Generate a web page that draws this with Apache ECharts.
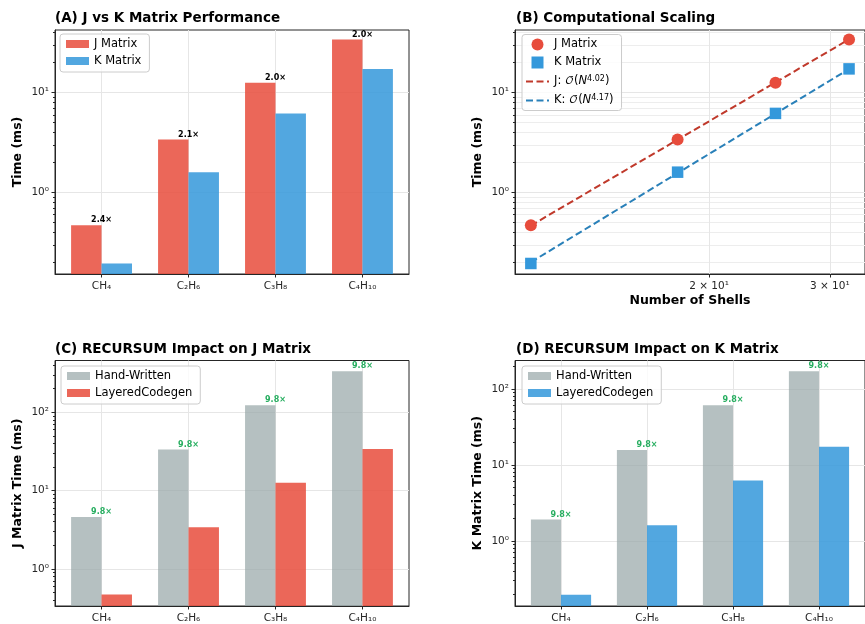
<!DOCTYPE html>
<html>
<head>
<meta charset="utf-8">
<script src="https://cdn.jsdelivr.net/npm/echarts@6/dist/echarts.min.js"></script>
<style>
  html, body { margin: 0; padding: 0; background: #ffffff; }
  #chart { width: 865px; height: 624px; }
</style>
</head>
<body>
<div id="chart"></div>
<script>
// ---- data ----
const molecules = ['CH₄', 'C₂H₆', 'C₃H₈', 'C₄H₁₀'];
const jMatrixMs = [0.47, 3.4, 12.6, 34.0];
const kMatrixMs = [0.195, 1.6, 6.2, 17.3];
const jkRatioText = ['2.4×', '2.1×', '2.0×', '2.0×'];
const shellCounts = [11, 18, 25, 32];
const jScalingExponent = 4.02;
const kScalingExponent = 4.17;
const handWrittenJMs = [4.6, 33.3, 123, 333];
const handWrittenKMs = [1.91, 15.7, 60.8, 170];
const recursumSpeedupJ = ['9.8×', '9.8×', '9.8×', '9.8×'];
const recursumSpeedupK = ['9.8×', '9.8×', '9.8×', '9.8×'];
const majorLogTicks = [1, 10, 100];
const shellTicks = [20, 30];

// ---- styles ----
const FONT = 'DejaVu Sans';
const INK = '#262626';
const GRID_LINE = '#e6e6e6';
const J_FILL = 'rgba(231,76,60,0.85)';
const K_FILL = 'rgba(52,152,219,0.85)';
const HAND_FILL = 'rgba(149,165,166,0.7)';
const GREEN = '#27ae60';
const J_FIT = '#c0392b';
const K_FIT = '#2980b9';
const BAR_W = 0.35;
const X_MIN = -0.535, X_MAX = 3.535;

// legend glyphs: a square marker and a dashed stroke
const SQUARE_ICON = 'path://M0,0L10,0L10,10L0,10Z';
const DASH_ICON = 'path://M0,0h7v2h-7z M10.5,0h7v2h-7z M21,0h2v2h-2z';

const SUP = { '0': '⁰', '1': '¹', '2': '²', '-': '⁻' };
function pow10Label(v) {
  const e = Math.round(Math.log10(v));
  return '10' + String(e).split('').map(c => SUP[c]).join('');
}
function minorLogTicks(min, max) {
  const out = [];
  for (let e = -2; e <= 3; e++) {
    for (let m = 2; m <= 9; m++) {
      const v = m * Math.pow(10, e);
      if (v >= min && v <= max) out.push(v);
    }
  }
  return out;
}

const displayName = {
  jBars: 'J Matrix', kBars: 'K Matrix',
  jPts: 'J Matrix', kPts: 'K Matrix',
  jFit: '{t|J: }{o|𝒪}{t|(}{i|N}{s|' + jScalingExponent.toFixed(2) + '}{t|)}',
  kFit: '{t|K: }{o|𝒪}{t|(}{i|N}{s|' + kScalingExponent.toFixed(2) + '}{t|)}',
  hwJ: 'Hand-Written', lcJ: 'LayeredCodegen',
  hwK: 'Hand-Written', lcK: 'LayeredCodegen'
};

// ---- helpers ----
function barItem(offset) {
  return function (params, api) {
    const cs = params.coordSys;
    const x = api.value(0), v = api.value(1);
    const a = api.coord([x + offset - BAR_W / 2, v]);
    const b = api.coord([x + offset + BAR_W / 2, v]);
    const bottom = cs.y + cs.height;
    return {
      type: 'rect',
      shape: { x: a[0], y: a[1], width: b[0] - a[0], height: bottom - a[1] },
      style: api.style()
    };
  };
}
function barSeries(name, grid, values, offset, fill) {
  return {
    name, type: 'custom', xAxisIndex: grid, yAxisIndex: grid * 2,
    renderItem: barItem(offset), clip: true,
    itemStyle: { color: fill },
    encode: { x: 0, y: 1 },
    data: values.map((v, i) => [i, v]), z: 2
  };
}
function ratioSeries(grid, tops, texts, color) {
  return {
    type: 'custom', xAxisIndex: grid, yAxisIndex: grid * 2, z: 5,
    encode: { x: 0, y: 1 },
    renderItem: function (params, api) {
      const p = api.coord([api.value(0), api.value(1)]);
      return {
        type: 'text', x: p[0], y: p[1] - 1,
        style: {
          text: texts[params.dataIndex], fill: color,
          font: 'bold 8px ' + FONT, align: 'center', verticalAlign: 'bottom'
        }
      };
    },
    data: tops.map((v, i) => [i, v])
  };
}
function powerFit(xs, ys, p) {
  const lx = xs.map(Math.log10), ly = ys.map(Math.log10);
  const c = ly.reduce((s, v, i) => s + v - p * lx[i], 0) / xs.length;
  return [xs[0], xs[xs.length - 1]].map(x => [x, Math.pow(10, c + p * Math.log10(x))]);
}

const tickLabelStyle = { fontFamily: FONT, fontSize: 10.5, color: INK };
const axisNameStyle = { fontFamily: FONT, fontSize: 12.5, fontWeight: 'bold', color: '#000' };

function categoryXAxis(grid) {
  const ticks = [0, 1, 2, 3];
  return {
    type: 'value', gridIndex: grid, min: X_MIN, max: X_MAX, position: 'bottom',
    axisLine: { show: true, onZero: false, lineStyle: { color: INK, width: 1 } },
    axisTick: { show: true, length: 3.5, customValues: ticks, lineStyle: { color: INK } },
    axisLabel: { customValues: ticks, formatter: v => molecules[Math.round(v)], margin: 7, ...tickLabelStyle },
    splitLine: { show: true, lineStyle: { color: GRID_LINE, width: 1 } }
  };
}
function logYAxes(grid, min, max, name, minorGrid) {
  const majors = majorLogTicks.filter(v => v >= min && v <= max);
  const minors = minorLogTicks(min, max);
  return [
    {
      type: 'log', gridIndex: grid, min, max, position: 'left',
      name, nameLocation: 'middle', nameGap: 31, nameTextStyle: axisNameStyle,
      axisLine: { show: true, onZero: false, lineStyle: { color: INK, width: 1 } },
      axisTick: { show: true, length: 3.5, customValues: majors, lineStyle: { color: INK } },
      axisLabel: { customValues: majors, formatter: pow10Label, margin: 6, ...tickLabelStyle },
      splitLine: { show: true, lineStyle: { color: GRID_LINE, width: 1 } }
    },
    {
      type: 'log', gridIndex: grid, min, max, position: 'left', offset: 0,
      axisLine: { show: false, onZero: false },
      axisTick: { show: true, length: 2, customValues: minors, lineStyle: { color: INK } },
      axisLabel: { show: false },
      splitLine: { show: minorGrid, lineStyle: { color: '#ededed', width: 1 } }
    }
  ];
}
function legendBox(left, top, names, colors) {
  return {
    orient: 'vertical', left, top,
    data: names.map((n, i) => ({ name: n, icon: 'rect', itemStyle: { color: colors[i] } })),
    formatter: n => displayName[n],
    itemWidth: 23, itemHeight: 8, itemGap: 5,
    padding: [4, 8, 5, 6],
    backgroundColor: 'rgba(255,255,255,0.8)',
    borderColor: '#cccccc', borderWidth: 1, borderRadius: 3,
    selectedMode: false,
    textStyle: { fontFamily: FONT, fontSize: 11.5, color: '#000' }
  };
}

// ---- layout ----
const grids = [
  { left: 55, top: 30, width: 354, height: 244 },
  { left: 515, top: 30, width: 353.5, height: 244 },
  { left: 55, top: 360.5, width: 354, height: 246 },
  { left: 515, top: 360.5, width: 354, height: 246 }
].map(g => ({ ...g, show: true, borderColor: INK, borderWidth: 1, containLabel: false }));

const yAxes = [
  ...logYAxes(0, 0.153, 42.4, 'Time (ms)', false),
  ...logYAxes(1, 0.153, 42.4, 'Time (ms)', true),
  ...logYAxes(2, 0.336, 457, 'J Matrix Time (ms)', false),
  ...logYAxes(3, 0.139, 235.6, 'K Matrix Time (ms)', false)
];

const scalingXAxis = {
  type: 'log', gridIndex: 1, min: 10.43, max: 33.76, position: 'bottom',
  name: 'Number of Shells', nameLocation: 'middle', nameGap: 20,
  nameTextStyle: axisNameStyle,
  axisLine: { show: true, onZero: false, lineStyle: { color: INK, width: 1 } },
  axisTick: { show: true, length: 3.5, customValues: shellTicks, lineStyle: { color: INK } },
  axisLabel: {
    customValues: shellTicks, margin: 7,
    formatter: v => Math.round(v / 10) + ' × 10¹', ...tickLabelStyle
  },
  splitLine: { show: true, lineStyle: { color: GRID_LINE, width: 1 } }
};

const titleStyle = { fontFamily: FONT, fontSize: 13.5, fontWeight: 'bold', color: '#000' };
const titles = [
  { text: '(A) J vs K Matrix Performance', left: 55, top: 11 },
  { text: '(B) Computational Scaling', left: 516, top: 11 },
  { text: '(C) RECURSUM Impact on J Matrix', left: 55, top: 342 },
  { text: '(D) RECURSUM Impact on K Matrix', left: 516, top: 342 }
].map(t => ({ ...t, padding: 0, textStyle: titleStyle }));

const fitLegendRich = {
  t: { fontFamily: FONT, fontSize: 11.5, color: '#000' },
  o: { fontFamily: FONT + ', DejaVu Math TeX Gyre, serif', fontSize: 11.5, color: '#000' },
  i: { fontFamily: FONT, fontSize: 11.5, fontStyle: 'italic', color: '#000' },
  s: { fontFamily: FONT, fontSize: 8, color: '#000', verticalAlign: 'top', padding: [0, 0, 6, 0] }
};

const scalingLegend = {
  orient: 'vertical', left: 522, top: 34.5,
  data: [
    { name: 'jPts', icon: 'circle', itemStyle: { color: '#e74c3c' } },
    { name: 'kPts', icon: SQUARE_ICON, itemStyle: { color: '#3498db' } },
    { name: 'jFit', icon: DASH_ICON, itemStyle: { color: J_FIT } },
    { name: 'kFit', icon: DASH_ICON, itemStyle: { color: K_FIT } }
  ],
  formatter: n => displayName[n],
  itemWidth: 23, itemHeight: 12, itemGap: 6,
  padding: [4, 8, 4, 4],
  backgroundColor: 'rgba(255,255,255,0.8)',
  borderColor: '#cccccc', borderWidth: 1, borderRadius: 3,
  selectedMode: false,
  textStyle: { fontFamily: FONT, fontSize: 11.5, color: '#000', rich: fitLegendRich }
};

const option = {
  backgroundColor: '#ffffff',
  animation: false,
  title: titles,
  grid: grids,
  xAxis: [categoryXAxis(0), scalingXAxis, categoryXAxis(2), categoryXAxis(3)],
  yAxis: yAxes,
  legend: [
    legendBox(60, 34, ['jBars', 'kBars'], [J_FILL, K_FILL]),
    scalingLegend,
    legendBox(61, 366, ['hwJ', 'lcJ'], [HAND_FILL, J_FILL]),
    legendBox(522, 366, ['hwK', 'lcK'], [HAND_FILL, K_FILL])
  ],
  series: [
    // (A) J vs K
    barSeries('jBars', 0, jMatrixMs, -BAR_W / 2, J_FILL),
    barSeries('kBars', 0, kMatrixMs, BAR_W / 2, K_FILL),
    ratioSeries(0, jMatrixMs.map((v, i) => Math.max(v, kMatrixMs[i])), jkRatioText, '#000'),

    // (B) scaling with shell count
    {
      name: 'jFit', type: 'line', xAxisIndex: 1, yAxisIndex: 2, z: 3,
      data: powerFit(shellCounts, jMatrixMs, jScalingExponent),
      symbol: 'none', lineStyle: { color: J_FIT, width: 2, type: [7, 3.5] },
      itemStyle: { color: J_FIT }
    },
    {
      name: 'kFit', type: 'line', xAxisIndex: 1, yAxisIndex: 2, z: 3,
      data: powerFit(shellCounts, kMatrixMs, kScalingExponent),
      symbol: 'none', lineStyle: { color: K_FIT, width: 2, type: [7, 3.5] },
      itemStyle: { color: K_FIT }
    },
    {
      name: 'jPts', type: 'scatter', xAxisIndex: 1, yAxisIndex: 2, z: 4,
      symbol: 'circle', symbolSize: 12, itemStyle: { color: '#e74c3c', opacity: 1 },
      data: shellCounts.map((n, i) => [n, jMatrixMs[i]])
    },
    {
      name: 'kPts', type: 'scatter', xAxisIndex: 1, yAxisIndex: 2, z: 4,
      symbol: 'rect', symbolSize: 11.5, itemStyle: { color: '#3498db', opacity: 1 },
      data: shellCounts.map((n, i) => [n, kMatrixMs[i]])
    },

    // (C) RECURSUM effect on J
    barSeries('hwJ', 2, handWrittenJMs, -BAR_W / 2, HAND_FILL),
    barSeries('lcJ', 2, jMatrixMs, BAR_W / 2, J_FILL),
    ratioSeries(2, handWrittenJMs, recursumSpeedupJ, GREEN),

    // (D) RECURSUM effect on K
    barSeries('hwK', 3, handWrittenKMs, -BAR_W / 2, HAND_FILL),
    barSeries('lcK', 3, kMatrixMs, BAR_W / 2, K_FILL),
    ratioSeries(3, handWrittenKMs, recursumSpeedupK, GREEN)
  ]
};

const chart = echarts.init(document.getElementById('chart'), null, { renderer: 'canvas' });
chart.setOption(option);
</script>
</body>
</html>
